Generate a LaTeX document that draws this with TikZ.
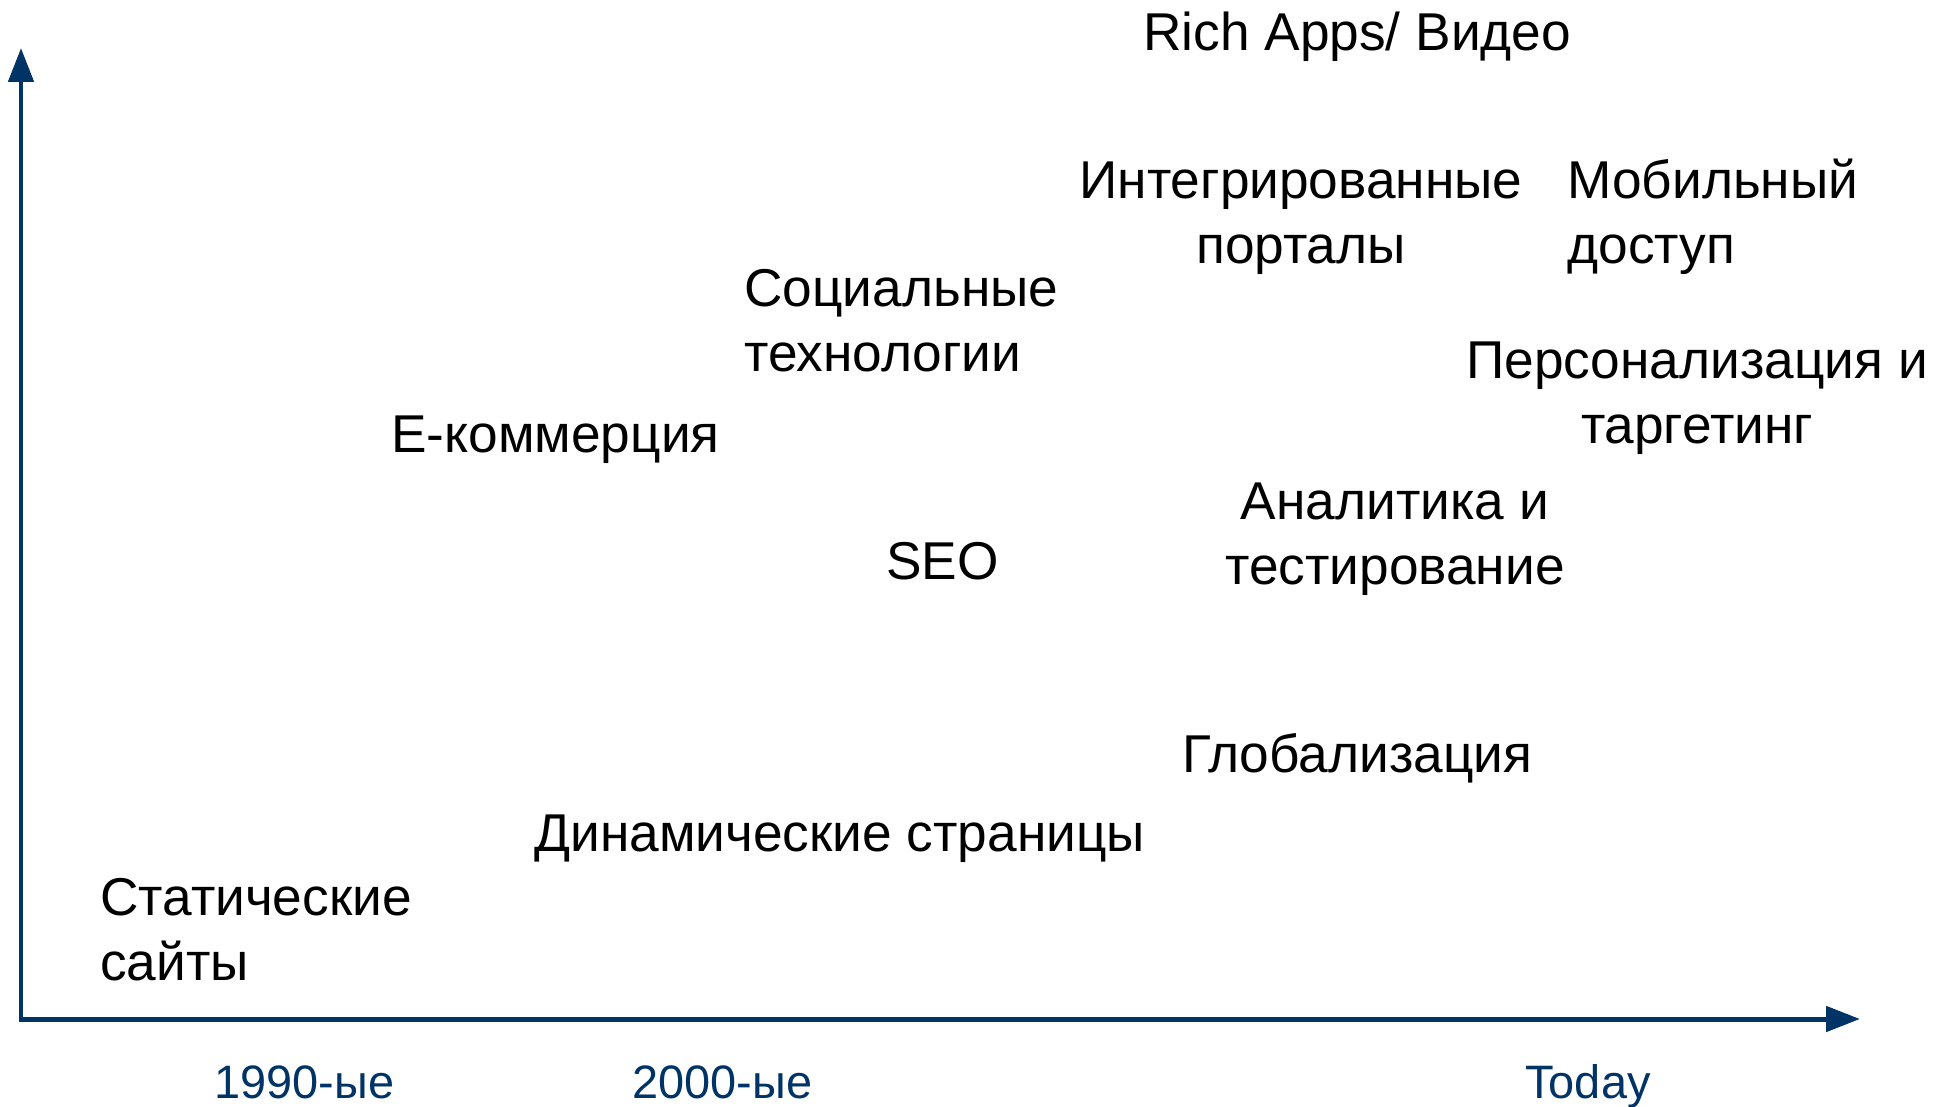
\documentclass[tikz,border=0pt]{standalone}
\usepackage{fontspec}
\setmainfont{Liberation Sans}
\usetikzlibrary{arrows.meta}
\definecolor{axisblue}{RGB}{0,51,102}
\tikzset{
  item/.style={inner sep=0pt, font=\fontsize{30.3}{36.6}\selectfont},
  period/.style={inner sep=0pt, anchor=base west, text=axisblue, font=\fontsize{26.7}{32}\selectfont},
  axis/.style={axisblue, line width=0.1cm, -{Triangle[length=0.68cm, width=0.5cm]}}
}
\begin{document}
\begin{tikzpicture}[x=0.02cm, y=-0.02cm]
        \useasboundingbox (0,0) rectangle (1938,1106);
        % axes
        \coordinate (o) at (21,1019);
        \coordinate (top) at (21,48);
        \coordinate (right) at (1860,1019);
        \draw[axis] ([yshift=-0.06cm]o) -- (top);
        \draw[axis] ([xshift=-0.05cm]o) -- (right);
        % periods
        \node[period] (p1990) at (214,1098) {1990-ые};
        \node[period] (p2000) at (632,1098) {2000-ые};
        \node[period] (ptoday) at (1525,1098) {Today};
        % stages (multi-line nodes sit on their last line)
        \node[item, anchor=base west, align=left] (static) at (100,980) {Статические\\сайты};
        \node[item, anchor=base west] (dynamic) at (534,851) {Динамические страницы};
        \node[item, anchor=base west] (ecommerce) at (391,452) {Е-коммерция};
        \node[item, anchor=base west, align=left] (social) at (744,371) {Социальные\\технологии};
        \node[item, anchor=base west] (seo) at (886,579) {SEO};
        \node[item, anchor=base west] (global) at (1182,772) {Глобализация};
        \node[item, anchor=base, align=center] (analytics) at (1395,584) {Аналитика и\\тестирование};
        \node[item, anchor=base, align=center] (portals) at (1301,263) {Интегрированные\\порталы};
        \node[item, anchor=base west] (rich) at (1143,50) {Rich Apps/ Видео};
        \node[item, anchor=base west, align=left] (mobile) at (1567,263) {Мобильный\\доступ};
        \node[item, anchor=base, align=center] (personal) at (1697,443) {Персонализация и\\таргетинг};
    \end{tikzpicture}
\end{document}
